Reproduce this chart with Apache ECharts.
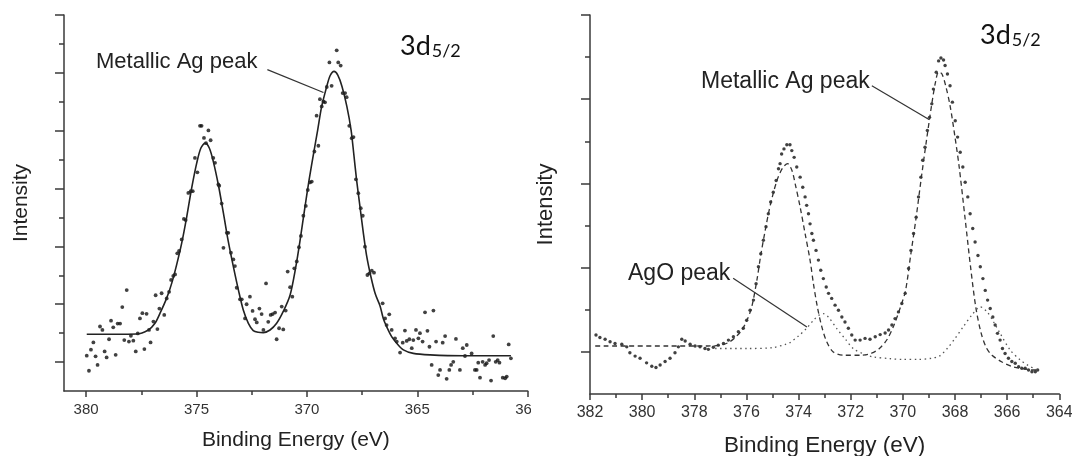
<!DOCTYPE html>
<html>
<head>
<meta charset="utf-8">
<script src="https://cdn.jsdelivr.net/npm/echarts@6/dist/echarts.min.js"></script>
<style>
    html, body { margin: 0; padding: 0; background: #fff; }
    #leftWrap { position: absolute; left: 0; top: 0; width: 531px; height: 456px; overflow: hidden; }
    #left { width: 600px; height: 456px; }
    #right { position: absolute; left: 534px; top: 0; width: 538px; height: 456px; }
</style>
</head>
<body>
<div id="leftWrap"><div id="left"></div></div>
<div id="right"></div>
<script>
// ---- left panel: measured points [binding energy, intensity] ----
const leftPoints = [
    [379.97,1.22],[379.87,0.70],[379.78,1.43],[379.67,1.68],[379.57,1.20],[379.48,0.90],[379.37,2.23],[379.26,2.11],
    [379.16,1.37],[379.07,1.16],[378.96,1.79],[378.87,2.43],[378.77,2.20],[378.66,1.25],[378.57,2.33],[378.46,2.33],
    [378.36,2.90],[378.27,1.76],[378.16,3.49],[378.06,1.71],[377.97,1.91],[377.86,1.74],[377.75,1.37],[377.66,1.99],
    [377.56,2.51],[377.45,2.69],[377.36,1.45],[377.26,2.67],[377.15,2.11],[377.08,1.68],[376.95,2.40],[376.85,3.31],
    [376.77,2.14],[376.68,2.85],[376.58,3.38],[376.46,2.63],[376.35,3.20],[376.24,3.43],[376.15,3.84],[376.05,3.98],
    [375.97,4.03],[375.87,4.76],[375.79,4.84],[375.67,5.24],[375.57,5.95],[375.49,5.91],[375.37,6.85],[375.26,6.91],
    [375.17,6.91],[375.07,8.06],[374.96,7.56],[374.84,9.17],[374.77,9.17],[374.66,8.75],[374.57,8.57],[374.46,9.01],
    [374.36,8.67],[374.24,8.06],[374.16,7.89],[374.01,7.14],[373.97,7.10],[373.86,6.48],[373.78,4.95],[373.63,5.47],
    [373.56,5.47],[373.44,4.78],[373.33,4.55],[373.26,4.32],[373.18,3.57],[373.03,3.17],[372.95,3.17],[372.80,2.51],
    [372.73,3.00],[372.58,3.26],[372.46,2.77],[372.35,2.48],[372.27,2.37],[372.15,2.85],[372.05,2.66],[371.97,2.11],
    [371.85,3.72],[371.75,2.39],[371.64,2.63],[371.55,2.66],[371.44,2.71],[371.37,1.79],[371.26,2.17],[371.14,2.92],
    [371.07,2.13],[370.96,2.78],[370.87,4.13],[370.76,3.59],[370.66,3.26],[370.57,4.24],[370.46,4.48],[370.36,4.97],
    [370.27,5.36],[370.16,6.06],[370.05,6.40],[369.96,6.95],[369.86,7.21],[369.78,7.24],[369.66,8.28],[369.56,9.52],
    [369.48,8.48],[369.41,10.09],[369.33,9.84],[369.25,10.01],[369.18,9.98],[369.10,10.51],[368.98,11.36],[368.88,10.55],
    [368.65,11.78],[368.58,11.36],[368.47,11.25],[368.38,10.30],[368.27,10.30],[368.20,10.16],[368.08,9.17],[367.97,8.74],
    [367.89,8.78],[367.78,7.32],[367.67,6.84],[367.56,6.32],[367.47,6.06],[367.37,4.99],[367.26,4.01],[367.17,4.07],
    [367.06,4.16],[366.96,4.09],[366.57,3.03],[366.46,2.51],[366.39,2.28],[366.27,2.65],[366.16,2.11],[366.01,1.82],
    [365.93,1.71],[365.78,1.33],[365.66,1.67],[365.56,2.09],[365.48,1.73],[365.36,1.79],[365.25,1.48],[365.18,1.76],
    [365.06,2.11],[364.95,1.82],[364.88,2.00],[364.76,1.71],[364.65,2.72],[364.54,2.08],[364.45,1.53],[364.35,0.90],
    [364.27,2.78],[364.15,1.71],[364.05,0.55],[363.97,0.73],[363.85,1.67],[363.74,1.90],[363.67,0.42],[363.55,0.73],
    [363.47,0.90],[363.37,1.01],[363.25,1.80],[363.07,0.73],[362.94,1.48],[362.84,1.21],[362.76,1.59],[362.54,1.30],
    [362.39,0.73],[362.31,0.73],[362.24,0.98],[362.16,0.46],[362.04,1.01],[361.93,0.90],[361.86,0.96],[361.75,1.07],
    [361.66,0.36],[361.56,1.90],[361.45,1.01],[361.36,1.07],[361.28,0.98],[361.13,0.46],[361.02,0.44],[360.95,0.50],
    [360.86,1.61],[360.76,1.13]
];

// left panel: fitted curve (solid)
const leftFit = [
    [379.97,1.96],[377.71,1.97],[377.18,2.11],[376.88,2.34],[376.65,2.69],[376.35,3.21],[376.12,3.73],[375.90,4.36],
    [375.67,5.11],[375.44,6.03],[375.22,7.01],[374.99,7.88],[374.80,8.40],[374.61,8.57],[374.42,8.40],[374.24,7.94],
    [374.01,7.13],[373.78,6.15],[373.56,5.17],[373.33,4.30],[373.10,3.49],[372.88,2.80],[372.65,2.34],[372.43,2.09],
    [372.20,2.03],[371.97,2.02],[371.67,2.11],[371.37,2.34],[371.07,2.75],[370.76,3.32],[370.50,4.30],[370.30,5.25],
    [370.10,6.30],[369.90,7.30],[369.70,8.20],[369.51,9.03],[369.33,9.84],[369.10,10.53],[368.95,10.90],[368.77,11.05],
    [368.60,10.92],[368.41,10.53],[368.19,9.84],[368.00,9.03],[367.88,8.22],[367.75,7.30],[367.60,6.40],[367.45,5.50],
    [367.30,4.70],[367.10,3.95],[366.90,3.35],[366.69,2.95],[366.54,2.51],[366.39,2.23],[366.16,1.88],[365.93,1.65],
    [365.63,1.42],[365.18,1.30],[364.42,1.25],[362.91,1.22],[360.76,1.22]
];

// ---- right panel ----
const rightPoints = [
    [381.77,1.40],[381.62,1.34],[381.42,1.30],[381.23,1.24],[381.04,1.20],[380.78,1.18],[380.59,1.12],[380.47,0.98],
    [380.27,0.90],[380.08,0.85],[379.83,0.74],[379.63,0.66],[379.47,0.63],[379.31,0.69],[379.12,0.77],[378.93,0.85],
    [378.74,0.98],[378.61,1.12],[378.48,1.30],[378.35,1.26],[378.16,1.18],[377.97,1.14],[377.78,1.12],[377.59,1.08],
    [377.46,1.06],[377.27,1.11],[377.08,1.16],[376.88,1.20],[376.69,1.28],[376.50,1.36],[376.31,1.48],[376.12,1.56],
    [375.99,1.75],[375.86,1.99],[375.73,2.23],[375.63,2.62],[375.54,3.02],[375.45,3.33],[375.35,3.65],[375.25,3.97],
    [375.16,4.28],[375.07,4.56],[374.97,4.79],[374.86,5.07],[374.77,5.35],[374.71,5.47],[374.65,5.70],[374.56,5.82],
    [374.45,5.92],[374.33,5.92],[374.26,5.78],[374.17,5.62],[374.07,5.39],[373.94,5.15],[373.84,4.91],[373.75,4.68],
    [373.69,4.48],[373.62,4.28],[373.56,4.04],[373.49,3.81],[373.43,3.65],[373.33,3.41],[373.24,3.18],[373.15,2.94],
    [373.05,2.74],[372.94,2.54],[372.85,2.39],[372.73,2.27],[372.60,2.11],[372.47,1.99],[372.34,1.83],[372.22,1.71],
    [372.09,1.56],[371.96,1.40],[371.83,1.28],[371.64,1.28],[371.45,1.32],[371.26,1.30],[371.06,1.36],[370.87,1.41],
    [370.68,1.45],[370.55,1.52],[370.42,1.64],[370.30,1.79],[370.17,1.95],[370.04,2.15],[369.91,2.39],[369.78,2.98],
    [369.69,3.41],[369.59,3.81],[369.49,4.20],[369.40,4.68],[369.31,5.15],[369.24,5.55],[369.15,5.86],[369.06,6.26],
    [368.98,6.57],[368.89,6.89],[368.83,7.24],[368.72,7.64],[368.63,7.91],[368.54,7.98],[368.44,7.93],[368.38,7.80],
    [368.29,7.60],[368.19,7.32],[368.10,6.93],[367.99,6.49],[367.90,6.10],[367.80,5.74],[367.70,5.39],[367.61,5.03],
    [367.51,4.68],[367.42,4.28],[367.32,3.93],[367.23,3.61],[367.12,3.29],[367.03,3.02],[366.93,2.74],[366.84,2.46],
    [366.75,2.23],[366.65,2.03],[366.55,1.83],[366.46,1.64],[366.37,1.44],[366.27,1.28],[366.18,1.08],[366.08,0.96],
    [365.95,0.85],[365.82,0.77],[365.69,0.73],[365.56,0.65],[365.44,0.61],[365.31,0.61],[365.18,0.57],[365.05,0.53],
    [364.92,0.53],[364.83,0.57]
];

// metallic Ag components + background (dashed)
const rightMetal = [
    [381.80,1.14],[379.00,1.14],[377.50,1.14],[377.00,1.16],[376.70,1.22],[376.45,1.33],[376.20,1.50],[376.00,1.72],
    [375.80,2.06],[375.60,2.70],[375.45,3.30],[375.30,3.82],[375.15,4.30],[375.00,4.70],[374.80,5.12],[374.60,5.38],
    [374.42,5.47],[374.25,5.30],[374.13,4.99],[373.94,4.44],[373.75,3.81],[373.56,3.18],[373.43,2.62],[373.28,2.07],
    [373.11,1.60],[372.92,1.24],[372.67,1.00],[372.28,0.92],[371.60,0.92],[371.20,0.97],[370.90,1.08],[370.60,1.30],
    [370.35,1.62],[370.10,2.05],[369.90,2.45],[369.70,3.30],[369.50,4.15],[369.30,5.10],[369.10,6.00],[368.90,6.85],
    [368.75,7.40],[368.63,7.65],[368.50,7.60],[368.35,7.30],[368.19,6.85],[368.00,6.10],[367.84,5.39],[367.61,4.15],
    [367.40,3.00],[367.20,2.05],[367.00,1.45],[366.80,1.10],[366.58,0.92],[366.20,0.76],[365.79,0.65],[365.40,0.60],
    [364.99,0.57],[364.85,0.57]
];

// AgO components (dotted)
const rightAgO = [
    [377.20,1.08],[376.00,1.08],[375.00,1.10],[374.50,1.18],[374.33,1.22],[374.00,1.38],[373.69,1.56],[373.40,1.77],
    [373.20,1.88],[373.05,1.91],[372.85,1.82],[372.53,1.55],[372.20,1.30],[371.89,1.07],[371.50,0.95],[371.13,0.88],
    [370.50,0.84],[370.00,0.82],[369.40,0.82],[368.90,0.85],[368.60,0.90],[368.30,1.08],[368.00,1.32],[367.68,1.60],
    [367.36,1.87],[367.03,2.07],[366.77,1.95],[366.52,1.71],[366.27,1.44],[365.88,1.04],[365.50,0.81],[365.20,0.68],
    [364.98,0.61],[364.85,0.57]
];

// tick positions
const leftMajorX = [360, 365, 370, 375, 380];
const leftMinorX = [362.5, 367.5, 372.5, 377.5];
const leftMajorY = [1, 3, 5, 7, 9, 11, 13];
const leftMinorY = [2, 4, 6, 8, 10, 12];
const rightMajorX = [364, 366, 368, 370, 372, 374, 376, 378, 380, 382];
const rightMinorX = [365, 367, 369, 371, 373, 375, 377, 379, 381];
const rightMajorY = [1, 3, 5, 7, 9];
const rightMinorY = [2, 4, 6, 8];

const FONT = '"Liberation Sans", Arial, sans-serif';
const axisLine = { show: true, lineStyle: { color: '#3a3a3a', width: 1.5 } };

function yAxes(max, major, minor, name, nameSize, nameGap){
    return [
        {
            type: 'value', min: 0, max: max,
            name: name, nameLocation: 'middle', nameGap: nameGap,
            nameTextStyle: { fontFamily: FONT, fontSize: nameSize, color: '#222' },
            axisLine: axisLine,
            axisTick: { show: true, customValues: major, length: 9, lineStyle: { color: '#3a3a3a', width: 1.5 } },
            axisLabel: { show: false },
            splitLine: { show: false }
        },
        {   // short ticks
            type: 'value', min: 0, max: max, position: 'left',
            axisLine: { show: false },
            axisTick: { show: true, customValues: minor, length: 5, lineStyle: { color: '#3a3a3a', width: 1.5 } },
            axisLabel: { show: false },
            splitLine: { show: false }
        }
    ];
}

function xAxes(min, max, major, minor, labelSize, nameSize, nameGap){
    return [
        {
            type: 'value', inverse: true, min: min, max: max,
            name: 'Binding Energy (eV)', nameLocation: 'middle', nameGap: nameGap,
            nameTextStyle: { fontFamily: FONT, fontSize: nameSize, color: '#222' },
            axisLine: axisLine,
            axisTick: { show: true, customValues: major, length: 6, lineStyle: { color: '#3a3a3a', width: 1.5 } },
            axisLabel: { customValues: major, fontFamily: FONT, fontSize: labelSize, color: '#333', margin: 11 },
            splitLine: { show: false }
        },
        {
            type: 'value', inverse: true, min: min, max: max, position: 'bottom',
            axisLine: { show: false },
            axisTick: { show: true, customValues: minor, length: 4, lineStyle: { color: '#3a3a3a', width: 1.5 } },
            axisLabel: { show: false },
            splitLine: { show: false }
        }
    ];
}

function label3d(left, top){
    return {
        type: 'text', left: left, top: top, silent: true,
        style: {
            text: '{a|3d}{b|5/2}',
            rich: {
                a: { fontFamily: 'Lato', fontSize: 27, fill: '#111', verticalAlign: 'bottom' },
                b: { fontFamily: 'Lato', fontSize: 18, fill: '#111', verticalAlign: 'bottom', padding: [0, 0, 0, 1] }
            }
        }
    };
}

// left chart
let leftChart = echarts.init(document.getElementById('left'));
leftChart.setOption({
    animation: false,
    grid: { left: 64, top: 15, width: 463.7, height: 376, outerBoundsMode: 'none' },
    xAxis: xAxes(360, 381, leftMajorX, leftMinorX, 15, 21, 39),
    yAxis: yAxes(13, leftMajorY, leftMinorY, 'Intensity', 21, 32),
    graphic: [
        { type: 'text', left: 96, top: 51, silent: true,
          style: { text: 'Metallic Ag peak', font: '22px ' + FONT, fill: '#222' } },
        label3d(400, 33)
    ],
    series: [
        {
            type: 'line', data: leftFit, symbol: 'none', smooth: 0.3,
            lineStyle: { color: '#222', width: 1.6 },
            markLine: {
                silent: true, symbol: ['none', 'none'], label: { show: false },
                lineStyle: { color: '#333', width: 1.2, type: 'solid' },
                data: [[{ coord: [371.79, 11.11] }, { coord: [369.25, 10.32] }]]
            }
        },
        {
            type: 'scatter', data: leftPoints, symbolSize: 3.8,
            itemStyle: { color: '#111' }
        }
    ]
});

// right chart
let rightChart = echarts.init(document.getElementById('right'));
rightChart.setOption({
    animation: false,
    grid: { left: 56, top: 15, width: 469.3, height: 379, outerBoundsMode: 'none' },
    xAxis: xAxes(364, 382, rightMajorX, rightMinorX, 16, 22.5, 40),
    yAxis: yAxes(9, rightMajorY, rightMinorY, 'Intensity', 22, 33),
    graphic: [
        { type: 'text', left: 167, top: 70, silent: true,
          style: { text: 'Metallic Ag peak', font: '23px ' + FONT, fill: '#222' } },
        { type: 'text', left: 94, top: 262, silent: true,
          style: { text: 'AgO peak', font: '23px ' + FONT, fill: '#222' } },
        label3d(446, 22)
    ],
    series: [
        {
            type: 'line', data: rightMetal, symbol: 'none', smooth: 0.3,
            lineStyle: { color: '#333', width: 1.3, type: [5, 3.5] },
            markLine: {
                silent: true, symbol: ['none', 'none'], label: { show: false },
                lineStyle: { color: '#333', width: 1.2, type: 'solid' },
                data: [
                    [{ coord: [371.19, 7.32] }, { coord: [368.98, 6.51] }],
                    [{ coord: [376.51, 2.75] }, { coord: [373.68, 1.59] }]
                ]
            }
        },
        {
            type: 'line', data: rightAgO, symbol: 'none', smooth: 0.3,
            lineStyle: { color: '#555', width: 1.3, type: [1.5, 3.5] }
        },
        {
            type: 'scatter', data: rightPoints, symbolSize: 3.4,
            itemStyle: { color: '#111' }
        }
    ]
});
</script>
</body>
</html>
